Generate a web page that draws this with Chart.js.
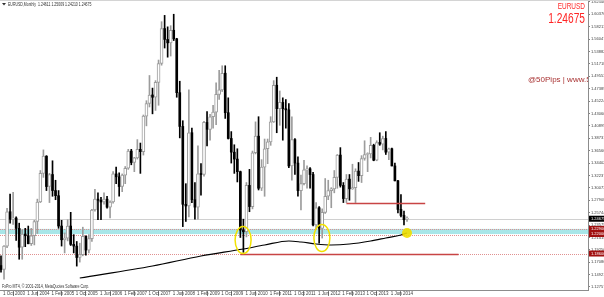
<!DOCTYPE html>
<html>
<head>
<meta charset="utf-8">
<script src="https://cdn.jsdelivr.net/npm/chart.js@4.4.1/dist/chart.umd.min.js"></script>
<style>
  html, body { margin: 0; padding: 0; background: #fff; overflow: hidden; }
  canvas { display: block; }
</style>
</head>
<body>
<canvas id="mt4" width="604" height="297"></canvas>
<script>
// EURUSD monthly, Oct 2003 .. Dec 2014 (one entry per month)
const opens = [1.1650,1.1580,1.1990,1.2590,1.2460,1.2480,1.2300,1.1970,1.2200,1.2170,
  1.2030,1.2170,1.2420,1.2760,1.3260,1.3560,1.3030,1.3240,1.2960,1.2870,
  1.2340,1.2100,1.2130,1.2340,1.2020,1.1990,1.1790,1.1840,1.2160,1.1920,
  1.2120,1.2620,1.2810,1.2790,1.2760,1.2810,1.2670,1.2760,1.3250,1.3200,
  1.3030,1.3230,1.3350,1.3650,1.3450,1.3530,1.3680,1.3640,1.4260,1.4480,
  1.4630,1.4590,1.4850,1.5180,1.5790,1.5600,1.5540,1.5760,1.5610,1.4670,
  1.4080,1.2720,1.2690,1.3970,1.2800,1.2670,1.3250,1.3240,1.4150,1.4030,
  1.4250,1.4330,1.4640,1.4720,1.5010,1.4320,1.3870,1.3630,1.3510,1.3290,
  1.2270,1.2240,1.3050,1.2680,1.3620,1.3910,1.3000,1.3370,1.3690,1.3810,
  1.4160,1.4800,1.4390,1.4500,1.4390,1.4370,1.3390,1.3850,1.3440,1.2960,
  1.3080,1.3320,1.3340,1.3240,1.2360,1.2660,1.2300,1.2580,1.2860,1.2960,
  1.2990,1.3190,1.3580,1.3050,1.2820,1.3160,1.2990,1.3010,1.3300,1.3220,
  1.3520,1.3590,1.3600,1.3750,1.3490,1.3800,1.3770,1.3870,1.3630,1.3690,
  1.3390,1.3130,1.2630,1.2525,1.2461];
const highs = [1.1820,1.2000,1.2650,1.2900,1.2930,1.2500,1.2390,1.2270,1.2300,1.2340,
  1.2300,1.2440,1.2810,1.3310,1.3670,1.3570,1.3260,1.3480,1.3140,1.2960,
  1.2440,1.2220,1.2450,1.2580,1.2190,1.2070,1.2040,1.2320,1.2170,1.2190,
  1.2630,1.2980,1.2920,1.2840,1.2920,1.2860,1.2780,1.3290,1.3370,1.3270,
  1.3250,1.3380,1.3680,1.3680,1.3540,1.3850,1.3790,1.4280,1.4530,1.4970,
  1.4750,1.4880,1.5240,1.5910,1.6020,1.5820,1.5840,1.6040,1.5620,1.4870,
  1.4180,1.3080,1.4720,1.4050,1.3100,1.3740,1.3430,1.4170,1.4340,1.4290,
  1.4450,1.4840,1.5060,1.5140,1.5140,1.4580,1.3990,1.3760,1.3690,1.3300,
  1.2460,1.3100,1.3330,1.3650,1.4160,1.4250,1.3500,1.3860,1.3860,1.4250,
  1.4880,1.4940,1.4700,1.4580,1.4550,1.4480,1.4250,1.3870,1.3550,1.3230,
  1.3490,1.3390,1.3360,1.3280,1.2750,1.2680,1.2640,1.3170,1.3140,1.3010,
  1.3310,1.3590,1.3710,1.3100,1.3240,1.3240,1.3420,1.3340,1.3450,1.3570,
  1.3830,1.3620,1.3890,1.3770,1.3830,1.3970,1.3910,1.3990,1.3700,1.3700,
  1.3440,1.3140,1.2890,1.2600,1.2501];
const lows = [1.1535,1.1410,1.1960,1.2390,1.2370,1.2090,1.1760,1.1760,1.1980,1.2030,
  1.2000,1.2010,1.2210,1.2750,1.3190,1.2960,1.2750,1.2860,1.2800,1.2300,
  1.1990,1.1870,1.2080,1.2000,1.1870,1.1640,1.1710,1.1820,1.1830,1.1870,
  1.2070,1.2600,1.2450,1.2450,1.2720,1.2650,1.2480,1.2740,1.3080,1.2860,
  1.2940,1.3080,1.3330,1.3410,1.3290,1.3510,1.3260,1.3580,1.4090,1.4420,
  1.4300,1.4360,1.4450,1.5150,1.5450,1.5290,1.5310,1.5580,1.4590,1.3880,
  1.2330,1.2420,1.2500,1.2750,1.2460,1.2460,1.2880,1.3210,1.3740,1.3840,
  1.4050,1.4110,1.4550,1.4690,1.4220,1.3860,1.3440,1.3260,1.3110,1.2140,
  1.1880,1.2150,1.2590,1.2640,1.3600,1.2970,1.2960,1.2860,1.3430,1.3750,
  1.4150,1.3970,1.4100,1.3840,1.4050,1.3360,1.3140,1.3240,1.2860,1.2620,
  1.3060,1.3000,1.3000,1.2340,1.2290,1.2040,1.2130,1.2560,1.2800,1.2660,
  1.2920,1.3000,1.3020,1.2750,1.2750,1.2790,1.2980,1.2750,1.3120,1.3100,
  1.3490,1.3290,1.3530,1.3480,1.3480,1.3750,1.3670,1.3590,1.3500,1.3390,
  1.3130,1.2570,1.2500,1.2360,1.2421];
const closes = [1.1580,1.1990,1.2590,1.2460,1.2480,1.2300,1.1970,1.2200,1.2170,1.2030,
  1.2170,1.2420,1.2760,1.3260,1.3560,1.3030,1.3240,1.2960,1.2870,1.2340,
  1.2100,1.2130,1.2340,1.2020,1.1990,1.1790,1.1840,1.2160,1.1920,1.2120,
  1.2620,1.2810,1.2790,1.2760,1.2810,1.2670,1.2760,1.3250,1.3200,1.3030,
  1.3230,1.3350,1.3650,1.3450,1.3530,1.3680,1.3640,1.4260,1.4480,1.4630,
  1.4590,1.4850,1.5180,1.5790,1.5600,1.5540,1.5760,1.5610,1.4670,1.4080,
  1.2720,1.2690,1.3970,1.2800,1.2670,1.3250,1.3240,1.4150,1.4030,1.4250,
  1.4330,1.4640,1.4720,1.5010,1.4320,1.3870,1.3630,1.3510,1.3290,1.2270,
  1.2240,1.3050,1.2680,1.3620,1.3910,1.3000,1.3370,1.3690,1.3810,1.4160,
  1.4800,1.4390,1.4500,1.4390,1.4370,1.3390,1.3850,1.3440,1.2960,1.3080,
  1.3320,1.3340,1.3240,1.2360,1.2660,1.2300,1.2580,1.2860,1.2960,1.2990,
  1.3190,1.3580,1.3050,1.2820,1.3160,1.2990,1.3010,1.3300,1.3220,1.3520,
  1.3590,1.3600,1.3750,1.3490,1.3800,1.3770,1.3870,1.3630,1.3690,1.3390,
  1.3130,1.2630,1.2525,1.2450,1.24675];

// x axis: bar index -> date label
const xTickIndex = [0, 8, 16, 24, 32, 40, 48, 56, 64, 72, 80, 88, 96, 104, 112, 120, 128];
const xTickLabels = ['1 Oct 2003', '1 Jun 2004', '1 Feb 2005', '1 Oct 2005', '1 Jun 2006',
  '1 Feb 2007', '1 Oct 2007', '1 Jun 2008', '1 Feb 2009', '1 Oct 2009', '1 Jun 2010',
  '1 Feb 2011', '1 Oct 2011', '1 Jun 2012', '1 Feb 2013', '1 Oct 2013', '1 Jun 2014'];

// price scale labels on the right
const yTickValues = [1.62540, 1.60376, 1.58211, 1.56047, 1.53882, 1.51718, 1.49553, 1.47389,
  1.45224, 1.43060, 1.40895, 1.38731, 1.36566, 1.34402, 1.32237, 1.30073, 1.27908, 1.25744,
  1.23579, 1.21415, 1.19250, 1.17086, 1.14921, 1.12757];

// long moving average
const maIndex  = [26, 50, 66, 80, 87, 95, 99, 104, 109, 115, 122, 127, 132, 134];
const maValues = [1.1432, 1.1642, 1.1817, 1.1939, 1.2009, 1.2079, 1.2061, 1.2026, 1.2009,
  1.2026, 1.2079, 1.2131, 1.2184, 1.2219];

// drawn objects
const lastPrice = 1.24675;
const zoneHigh = 1.2290, zoneLow = 1.2200;
const resistance = { from: 114, to: 140, level: 1.2745 };
const support = { from: 79, to: 151, level: 1.1860 };
const circled = [ { i: 79.9, p: 1.2096 }, { i: 105.9, p: 1.2131 } ];
const touchDot = { i: 134, p: 1.2219 };

const idx = opens.map( ( _, i ) => i );
const isBull = i => closes[ i ] >= opens[ i ];

function squeezeText ( ctx, text, x, y, font, color, sx, align ) {
    ctx.save();
    ctx.font = font;
    ctx.fillStyle = color;
    ctx.textAlign = align || 'left';
    ctx.textBaseline = 'middle';
    ctx.translate( x, y );
    ctx.scale( sx, 1 );
    ctx.fillText( text, 0, 0 );
    ctx.restore();
}

const overlayPlugin = {
    id: 'mt4Overlay',
    beforeDatasetsDraw ( chart ) {
        const { ctx, chartArea: a, scales: { x, y } } = chart;
        ctx.save();
        ctx.beginPath(); ctx.rect( a.left, a.top, a.right - a.left, a.bottom - a.top ); ctx.clip();
        // support zone band
        const yh = y.getPixelForValue( zoneHigh ), yl = y.getPixelForValue( zoneLow );
        ctx.fillStyle = '#a8e6e8';
        ctx.fillRect( a.left, yh, a.right - a.left, yl - yh );
        ctx.strokeStyle = '#e09090';
        ctx.lineWidth = 1;
        ctx.setLineDash( [ 1, 1 ] );
        [ yh, yl + 1 ].forEach( v => {
            ctx.beginPath(); ctx.moveTo( a.left, Math.round( v ) + 0.5 ); ctx.lineTo( a.right, Math.round( v ) + 0.5 ); ctx.stroke();
        } );
        const ys = Math.round( y.getPixelForValue( support.level ) ) + 0.5;
        ctx.beginPath(); ctx.moveTo( a.left, ys ); ctx.lineTo( a.right, ys ); ctx.stroke();
        ctx.setLineDash( [] );
        // last price line
        const yp = Math.round( y.getPixelForValue( lastPrice ) ) + 0.5;
        ctx.strokeStyle = '#d0d0d0';
        ctx.beginPath(); ctx.moveTo( a.left, yp ); ctx.lineTo( a.right, yp ); ctx.stroke();
        ctx.restore();
    },
    afterDatasetsDraw ( chart ) {
        const { ctx, chartArea: a, scales: { x, y } } = chart;
        ctx.save();
        ctx.beginPath(); ctx.rect( a.left, a.top, a.right - a.left, a.bottom - a.top ); ctx.clip();
        ctx.strokeStyle = '#c84444';
        ctx.lineWidth = 1.5;
        [ support, resistance ].forEach( s => {
            const yy = Math.round( y.getPixelForValue( s.level ) ) + 0.5;
            ctx.beginPath();
            ctx.moveTo( x.getPixelForValue( s.from ), yy );
            ctx.lineTo( x.getPixelForValue( s.to ), yy );
            ctx.stroke();
        } );
        // yellow circles
        ctx.strokeStyle = '#f2e200';
        ctx.lineWidth = 1.5;
        circled.forEach( c => {
            ctx.beginPath();
            ctx.ellipse( x.getPixelForValue( c.i ), y.getPixelForValue( c.p ), 8, 13.5, 0, 0, Math.PI * 2 );
            ctx.stroke();
        } );
        ctx.fillStyle = 'rgba(240,222,0,0.9)';
        ctx.beginPath();
        ctx.arc( x.getPixelForValue( touchDot.i ), y.getPixelForValue( touchDot.p ), 5, 0, Math.PI * 2 );
        ctx.fill();
        // brand text, clipped by the price scale
        squeezeText( ctx, '@50Pips | www.50pips.com', 528, a.top + 80, '8px "Liberation Sans"', '#a83232', 1 );
        ctx.restore();
    },
    afterDraw ( chart ) {
        const { ctx, chartArea: a, scales: { y } } = chart;
        ctx.save();
        // top frame line
        ctx.strokeStyle = '#d4d4d4';
        ctx.lineWidth = 1;
        ctx.beginPath(); ctx.moveTo( 0, 0.5 ); ctx.lineTo( chart.width, 0.5 ); ctx.stroke();
        // header and footer text
        ctx.fillStyle = '#303030';
        ctx.beginPath(); ctx.moveTo( 2, 3 ); ctx.lineTo( 6, 3 ); ctx.lineTo( 4, 5.5 ); ctx.closePath(); ctx.fill();
        squeezeText( ctx, 'EURUSD,Monthly  1.24611 1.25009 1.24210 1.24675', 8, 4.5, '4.5px "Liberation Sans"', '#303030', 0.78 );
        squeezeText( ctx, 'FxPro MT4, © 2001-2014, MetaQuotes Software Corp.', 2, 286.5, '4.5px "Liberation Sans"', '#303030', 0.8 );
        squeezeText( ctx, 'EURUSD', 585, 6.5, '9px "Liberation Sans"', '#ff2a2a', 0.72, 'right' );
        squeezeText( ctx, '1.24675', 585, 19, '15px "Liberation Sans"', '#ff2424', 0.68, 'right' );
        // price-scale markers
        const marks = [
            { p: lastPrice, bg: '#000000' },
            { p: zoneHigh, bg: '#a01010' },
            { p: zoneLow, bg: '#a01010' },
            { p: support.level, bg: '#a01010' }
        ];
        marks.forEach( m => {
            const yy = y.getPixelForValue( m.p );
            ctx.fillStyle = m.bg;
            ctx.fillRect( a.right + 1, yy - 3, chart.width - a.right - 1, 6 );
            squeezeText( ctx, m.p.toFixed( 5 ), a.right + 3, yy, '4px "Liberation Sans"', '#ffffff', 1 );
        } );
        ctx.restore();
    }
};

const wicks = idx.map( i => ( { x: i, y: [ lows[ i ], highs[ i ] ] } ) );
const bullBodies = idx.filter( isBull ).map( i => ( { x: i, y: [ opens[ i ], closes[ i ] ] } ) );
const bearBodies = idx.filter( i => !isBull( i ) ).map( i => ( { x: i, y: [ closes[ i ], opens[ i ] ] } ) );
const maLine = maIndex.map( ( v, k ) => ( { x: v, y: maValues[ k ] } ) );

new Chart( document.getElementById( 'mt4' ), {
    type: 'bar',
    data: {
        datasets: [
            {
                type: 'line', data: maLine, order: 0,
                borderColor: '#000', borderWidth: 1.2, pointRadius: 0,
                cubicInterpolationMode: 'monotone'
            },
            {
                data: bullBodies, order: 1, grouped: false,
                barThickness: 3, minBarLength: 1,
                backgroundColor: '#ffffff', borderColor: '#9c9c9c', borderWidth: 1, borderSkipped: false
            },
            {
                data: bearBodies, order: 1, grouped: false,
                barThickness: 2, minBarLength: 1,
                backgroundColor: '#000000', borderWidth: 0
            },
            {
                data: wicks, order: 2, grouped: false,
                barThickness: 1,
                backgroundColor: ctx => isBull( ctx.dataIndex ) ? '#9c9c9c' : '#000000',
                borderWidth: 0
            }
        ]
    },
    options: {
        responsive: false,
        animation: false,
        devicePixelRatio: 1,
        events: [],
        layout: { padding: 0 },
        plugins: { legend: { display: false }, tooltip: { enabled: false } },
        scales: {
            x: {
                type: 'linear',
                offset: false,
                min: -0.33,
                max: 193.73,
                afterBuildTicks: s => { s.ticks = xTickIndex.map( v => ( { value: v } ) ); },
                afterFit: s => { s.height = 7; s.paddingLeft = 0; s.paddingRight = 0; },
                ticks: {
                    autoSkip: false, maxRotation: 0, minRotation: 0,
                    align: 'start', labelOffset: 2, padding: -5,
                    color: '#404040',
                    font: { family: 'Liberation Sans', size: 4.5 },
                    callback: v => xTickLabels[ xTickIndex.indexOf( v ) ]
                },
                grid: { drawOnChartArea: false, drawTicks: true, tickLength: 6, color: '#808080' },
                border: { color: '#8c8c8c' }
            },
            y: {
                position: 'right',
                min: 1.12226,
                max: 1.62889,
                afterBuildTicks: s => { s.ticks = yTickValues.map( v => ( { value: v } ) ); },
                afterFit: s => { s.width = 16; s.paddingTop = 0; s.paddingBottom = 0; },
                ticks: {
                    padding: 1,
                    color: '#404040',
                    font: { family: 'Liberation Sans', size: 4 },
                    callback: v => v.toFixed( 5 )
                },
                grid: { drawOnChartArea: false, drawTicks: true, tickLength: 2, color: '#808080' },
                border: { color: '#8c8c8c' }
            }
        }
    },
    plugins: [ overlayPlugin ]
} );
</script>
</body>
</html>
